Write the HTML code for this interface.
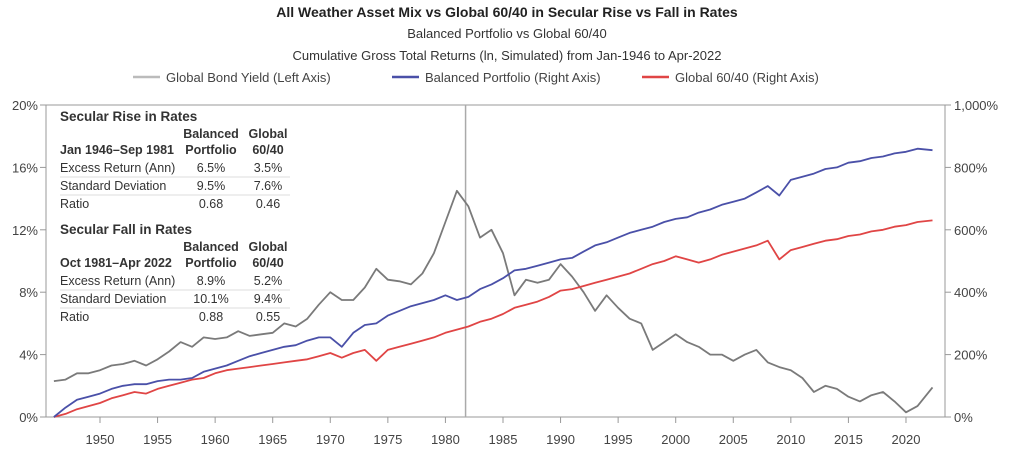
<!DOCTYPE html>
<html><head><meta charset="utf-8"><style>
body{margin:0;background:#fff;font-family:"Liberation Sans",sans-serif;}
svg text{font-family:"Liberation Sans",sans-serif;}
</style></head><body>
<svg width="1014" height="454" xmlns="http://www.w3.org/2000/svg">
<text x="507" y="17" text-anchor="middle" font-size="14" font-weight="bold" fill="#222">All Weather Asset Mix vs Global 60/40 in Secular Rise vs Fall in Rates</text>
<text x="507" y="38" text-anchor="middle" font-size="13" fill="#333">Balanced Portfolio vs Global 60/40</text>
<text x="507" y="60" text-anchor="middle" font-size="13" fill="#333">Cumulative Gross Total Returns (ln, Simulated) from Jan-1946 to Apr-2022</text>
<g font-size="13" fill="#444">
<line x1="133" y1="77" x2="160" y2="77" stroke="#bbb" stroke-width="2.5"/><text x="166" y="82">Global Bond Yield (Left Axis)</text>
<line x1="392" y1="77" x2="419" y2="77" stroke="#4a50a8" stroke-width="2.5"/><text x="425" y="82">Balanced Portfolio (Right Axis)</text>
<line x1="642" y1="77" x2="669" y2="77" stroke="#e04545" stroke-width="2.5"/><text x="675" y="82">Global 60/40 (Right Axis)</text>
</g>
<g id="axes"></g>
<g id="marks"></g>
<g font-size="12.5" fill="#333">
<text x="60" y="121" font-weight="bold" font-size="13.5">Secular Rise in Rates</text>
<text x="211" y="138" font-weight="bold" text-anchor="middle">Balanced</text><text x="268" y="138" font-weight="bold" text-anchor="middle">Global</text>
<text x="60" y="154" font-weight="bold">Jan 1946–Sep 1981</text><text x="211" y="154" font-weight="bold" text-anchor="middle">Portfolio</text><text x="268" y="154" font-weight="bold" text-anchor="middle">60/40</text>
<text x="60" y="172">Excess Return (Ann)</text><text x="211" y="172" text-anchor="middle">6.5%</text><text x="268" y="172" text-anchor="middle">3.5%</text>
<line x1="60" y1="177" x2="290" y2="177" stroke="#ddd"/>
<text x="60" y="190">Standard Deviation</text><text x="211" y="190" text-anchor="middle">9.5%</text><text x="268" y="190" text-anchor="middle">7.6%</text>
<line x1="60" y1="195" x2="290" y2="195" stroke="#ddd"/>
<text x="60" y="208">Ratio</text><text x="211" y="208" text-anchor="middle">0.68</text><text x="268" y="208" text-anchor="middle">0.46</text>
<text x="60" y="234" font-weight="bold" font-size="13.5">Secular Fall in Rates</text>
<text x="211" y="251" font-weight="bold" text-anchor="middle">Balanced</text><text x="268" y="251" font-weight="bold" text-anchor="middle">Global</text>
<text x="60" y="267" font-weight="bold">Oct 1981–Apr 2022</text><text x="211" y="267" font-weight="bold" text-anchor="middle">Portfolio</text><text x="268" y="267" font-weight="bold" text-anchor="middle">60/40</text>
<text x="60" y="285">Excess Return (Ann)</text><text x="211" y="285" text-anchor="middle">8.9%</text><text x="268" y="285" text-anchor="middle">5.2%</text>
<line x1="60" y1="290" x2="290" y2="290" stroke="#ddd"/>
<text x="60" y="303">Standard Deviation</text><text x="211" y="303" text-anchor="middle">10.1%</text><text x="268" y="303" text-anchor="middle">9.4%</text>
<line x1="60" y1="308" x2="290" y2="308" stroke="#ddd"/>
<text x="60" y="321">Ratio</text><text x="211" y="321" text-anchor="middle">0.88</text><text x="268" y="321" text-anchor="middle">0.55</text>
</g>
</svg>
<script>
const years=[1946,1947,1948,1949,1950,1951,1952,1953,1954,1955,1956,1957,1958,1959,1960,1961,1962,1963,1964,1965,1966,1967,1968,1969,1970,1971,1972,1973,1974,1975,1976,1977,1978,1979,1980,1981,1982,1983,1984,1985,1986,1987,1988,1989,1990,1991,1992,1993,1994,1995,1996,1997,1998,1999,2000,2001,2002,2003,2004,2005,2006,2007,2008,2009,2010,2011,2012,2013,2014,2015,2016,2017,2018,2019,2020,2021,2022];
const bondYield=[2.3,2.4,2.8,2.8,3.0,3.3,3.4,3.6,3.3,3.7,4.2,4.8,4.5,5.1,5.0,5.1,5.5,5.2,5.3,5.4,6.0,5.8,6.3,7.2,8.0,7.5,7.5,8.3,9.5,8.8,8.7,8.5,9.2,10.5,12.5,14.5,13.5,11.5,12.0,10.5,7.8,8.8,8.6,8.8,9.8,9.0,8.0,6.8,7.8,7.0,6.3,6.0,4.3,4.8,5.3,4.8,4.5,4.0,4.0,3.6,4.0,4.3,3.5,3.2,3.0,2.5,1.6,2.0,1.8,1.3,1.0,1.4,1.6,1.0,0.3,0.7,1.9];
const balanced=[0,30,55,65,75,90,100,105,105,115,120,120,125,145,155,165,180,195,205,215,225,230,245,255,255,225,270,295,300,325,340,355,365,375,390,375,385,410,425,445,470,475,485,495,505,510,530,550,560,575,590,600,610,625,635,640,655,665,680,690,700,720,740,710,760,770,780,795,800,815,820,830,835,845,850,860,855];
const global6040=[0,10,25,35,45,60,70,80,75,90,100,110,120,125,140,150,155,160,165,170,175,180,185,195,205,190,205,215,180,215,225,235,245,255,270,280,290,305,315,330,350,360,370,385,405,410,420,430,440,450,460,475,490,500,515,505,495,505,520,530,540,550,565,505,535,545,555,565,570,580,585,595,600,610,615,625,630];
const leftTicks=[0,4,8,12,16,20];
const rightTicks=[0,200,400,600,800,1000];
const xTicks=[1950,1955,1960,1965,1970,1975,1980,1985,1990,1995,2000,2005,2010,2015,2020];
const X0=46,X1=945,Y0=417,Y1=105;
const xs=y=>100+(y-1950)*11.514;
const yl=v=>Y0-(v/20)*(Y0-Y1);
const yr=v=>Y0-(v/1000)*(Y0-Y1);
const NS="http://www.w3.org/2000/svg";
function mk(tag,attrs,parent){const e=document.createElementNS(NS,tag);for(const k in attrs)e.setAttribute(k,attrs[k]);parent.appendChild(e);return e;}
const ax=document.getElementById('axes'),mg=document.getElementById('marks');
let e;
e=mk('rect',{x:X0,y:Y1,width:X1-X0,height:Y0-Y1,fill:'none',stroke:'#999','stroke-width':1},ax);


leftTicks.forEach(t=>{
 e=mk('line',{x1:X0-6,x2:X0,y1:yl(t),y2:yl(t),stroke:'#999'},ax);
 
 
 e=mk('text',{x:X0-8,y:yl(t)+5,'text-anchor':'end','font-size':13,fill:'#444'},ax);e.textContent=t+'%';
 
 
});
rightTicks.forEach(t=>{
 e=mk('line',{x1:X1,x2:X1+6,y1:yr(t),y2:yr(t),stroke:'#999'},ax);
 
 
 e=mk('text',{x:X1+9,y:yr(t)+5,'font-size':13,fill:'#444'},ax);e.textContent=(t>=1000?'1,000':t)+'%';
 
 
});
xTicks.forEach(t=>{
 e=mk('line',{x1:xs(t),x2:xs(t),y1:Y0,y2:Y0+6,stroke:'#999'},ax);
 
 
 e=mk('text',{x:xs(t),y:Y0+27,'text-anchor':'middle','font-size':13,fill:'#444'},ax);e.textContent=t;
 
 
});
e=mk('line',{x1:xs(1981.75),x2:xs(1981.75),y1:Y1,y2:Y0,stroke:'#aaa','stroke-width':1.5},ax);


function line(vals,f,color,name){
 const d=vals.map((v,i)=>(i?'L':'M')+xs(years[i]+(i==years.length-1?0.3:0)).toFixed(1)+','+f(v).toFixed(1)).join('');
 e=mk('path',{d:d,fill:'none',stroke:color,'stroke-width':1.8,'stroke-linejoin':'round'},mg);
 
 
}
line(bondYield,yl,'#7a7a7a','bond-yield-line');
line(global6040,yr,'#e04545','global-6040-line');
line(balanced,yr,'#4a50a8','balanced-portfolio-line');
</script>
</body></html>
